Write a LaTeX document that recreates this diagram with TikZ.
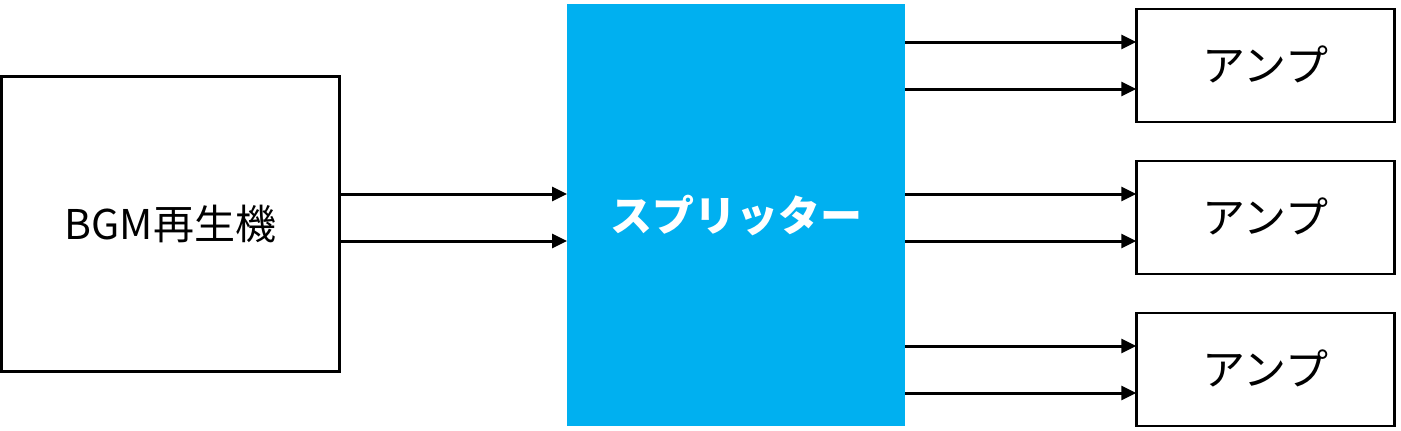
\documentclass[tikz,border=0pt]{standalone}
\usepackage{fontspec}
\setmainfont{Noto Sans CJK JP}
\usepackage{tikz}
\usetikzlibrary{arrows.meta,calc}
\definecolor{splitblue}{HTML}{00B0F0}

\begin{document}
\begin{tikzpicture}[x=1pt,y=-1pt,
  box/.style={draw,line width=2.6pt,inner sep=0pt,outer sep=0pt,
    font=\fontsize{41}{46}\selectfont},
  amp/.style={box,minimum width=258.5pt,minimum height=113pt,
    font=\fontsize{43}{48}\selectfont},
  sig/.style={line width=3pt,-{Triangle[length=15pt,width=14pt]}}]
\useasboundingbox (0,0) rectangle (1401,431);
\node[box,minimum width=337.5pt,minimum height=295pt] (bgm) at (170.5,224) {BGM再生機};
\node[fill=splitblue,text=white,minimum width=338pt,minimum height=422pt,
  inner sep=0pt,outer sep=0pt,font=\fontsize{42}{46}\selectfont\bfseries]
  (split) at (736,215) {スプリッター};
\node[amp] (amp1) at (1265.5,65.5) {\raisebox{3pt}{アンプ}};
\node[amp] (amp2) at (1265.5,217.5) {\raisebox{3pt}{アンプ}};
\node[amp] (amp3) at (1265.5,369.5) {\raisebox{3pt}{アンプ}};
\draw[sig] (bgm.east |- 0,194) -- (split.west |- 0,194);
\draw[sig] (bgm.east |- 0,241) -- (split.west |- 0,241);
\foreach \a in {amp1,amp2,amp3}{
  \draw[sig] (split.east |- {$(\a.west)+(0,-23.5)$}) -- ($(\a.west)+(0,-23.5)$);
  \draw[sig] (split.east |- {$(\a.west)+(0,23.5)$}) -- ($(\a.west)+(0,23.5)$);
}
\end{tikzpicture}
\end{document}
